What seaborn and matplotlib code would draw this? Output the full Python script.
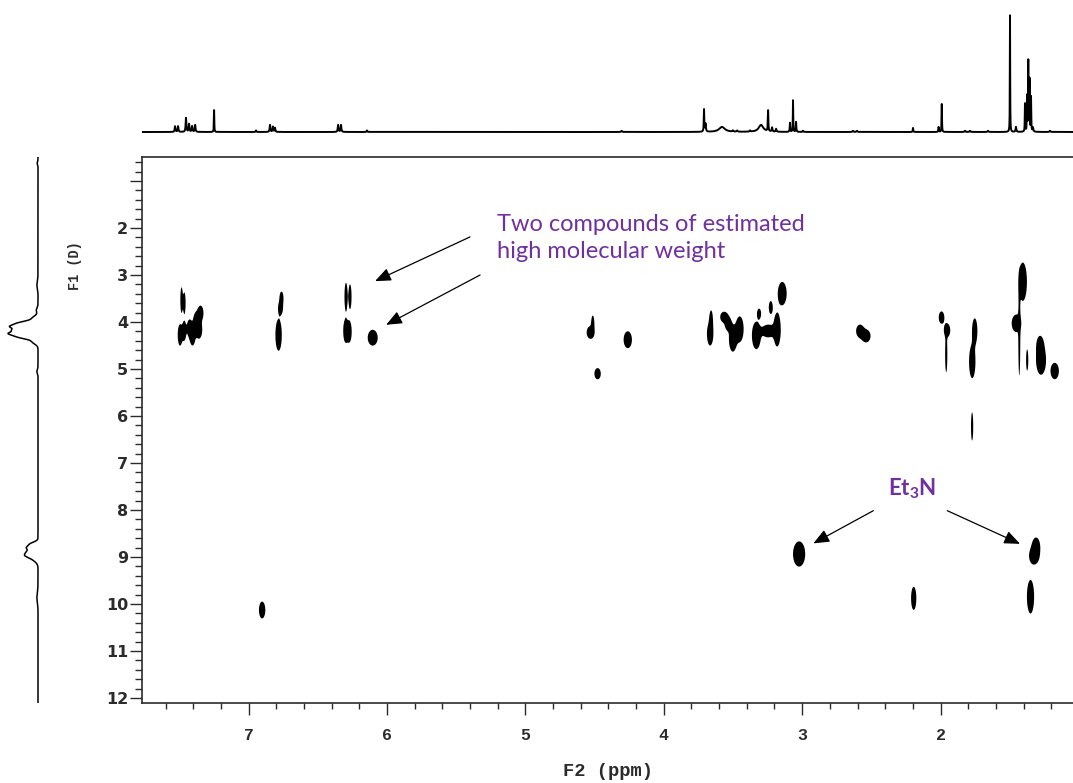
import numpy as np
import pandas as pd
import matplotlib
matplotlib.use("Agg")
import matplotlib.pyplot as plt
import seaborn as sns

# ---------------- DOSY cross peaks (F2 chemical shift / F1 diffusion) ----------------
peak_f2_ppm = [7.484, 7.464, 7.495, 7.465, 7.426, 7.405, 7.379, 7.358, 7.347,
               6.762, 6.769, 6.783,
               6.296, 6.267, 6.299, 6.272, 6.103,
               4.513, 4.529, 4.260, 4.478,
               3.658, 3.665, 3.564, 3.535, 3.501, 3.451, 3.331, 3.311, 3.246, 3.227, 3.181, 3.144,
               2.582, 2.538,
               1.993, 1.953, 1.959, 1.753, 1.771, 1.772,
               1.406, 1.452, 1.431, 1.374, 1.281, 1.274, 1.175,
               3.022, 1.310, 1.324, 2.194, 1.350, 6.902]
peak_f1_d = [3.532, 3.596, 4.277, 4.191, 4.128, 4.319, 4.000, 4.170, 3.809,
             3.489, 3.702, 4.277,
             3.462, 3.462, 4.191, 4.206, 4.334,
             4.021, 4.223, 4.377, 5.100,
             3.957, 4.255, 3.894, 4.043, 4.362, 4.149, 4.287, 3.819, 4.191, 3.691, 4.164, 3.394,
             4.191, 4.298,
             3.904, 4.177, 4.681, 4.191, 4.845, 6.223,
             3.143, 4.028, 4.294, 4.809, 4.489, 4.809, 5.043,
             8.936, 8.766, 8.979, 9.879, 9.845, 10.128]
peak_f2_halfwidth = [0.0090, 0.0090, 0.017, 0.014, 0.019, 0.019, 0.021, 0.023, 0.021,
                     0.014, 0.017, 0.023,
                     0.011, 0.011, 0.017, 0.017, 0.036,
                     0.011, 0.028, 0.030, 0.023,
                     0.012, 0.023, 0.028, 0.023, 0.028, 0.028, 0.032, 0.014, 0.044, 0.014, 0.026, 0.032,
                     0.028, 0.032,
                     0.020, 0.023, 0.0080, 0.019, 0.023, 0.0080,
                     0.030, 0.034, 0.0072, 0.0080, 0.023, 0.036, 0.030,
                     0.044, 0.028, 0.036, 0.019, 0.026, 0.023]
peak_f1_halfwidth = [0.27, 0.225, 0.225, 0.20, 0.18, 0.18, 0.20, 0.18, 0.157,
                     0.135, 0.135, 0.335,
                     0.297, 0.262, 0.242, 0.224, 0.168,
                     0.157, 0.135, 0.179, 0.119,
                     0.20, 0.246, 0.112, 0.135, 0.268, 0.268, 0.291, 0.101, 0.135, 0.135, 0.357, 0.246,
                     0.135, 0.135,
                     0.129, 0.145, 0.39, 0.268, 0.35, 0.30,
                     0.408, 0.186, 0.85, 0.224, 0.179, 0.313, 0.174,
                     0.268, 0.179, 0.179, 0.246, 0.357, 0.179]

# ---------------- 1H spectrum (top trace) ----------------
h1_ppm = [7.531, 7.509, 7.452, 7.430, 7.408, 7.386, 7.249, 6.946, 6.845, 6.824, 6.809,
          6.353, 6.332, 6.144, 4.304, 3.709, 3.698, 3.579, 3.500, 3.470, 3.376, 3.297,
          3.246, 3.217, 3.188, 3.088, 3.066, 3.044, 2.994, 2.633, 2.604, 2.199, 2.014,
          1.991, 1.823, 1.787, 1.657, 1.498, 1.455, 1.390, 1.375, 1.366, 1.357, 1.346,
          1.332, 1.209]
h1_height = [0.049, 0.049, 0.12, 0.068, 0.05, 0.06, 0.188, 0.013, 0.06, 0.045, 0.035,
             0.06, 0.06, 0.013, 0.01, 0.19, 0.068, 0.043, 0.01, 0.01, 0.01, 0.06,
             0.18, 0.035, 0.025, 0.077, 0.27, 0.085, 0.01, 0.01, 0.01, 0.035, 0.043,
             0.24, 0.01, 0.01, 0.01, 1.0, 0.043, 0.24, 0.30, 0.60, 0.45, 0.30,
             0.035, 0.01]
h1_width = [0.003, 0.003, 0.003, 0.003, 0.003, 0.003, 0.0015, 0.003, 0.003, 0.003, 0.003,
            0.003, 0.003, 0.003, 0.004, 0.002, 0.003, 0.025, 0.004, 0.004, 0.004, 0.02,
            0.002, 0.003, 0.003, 0.002, 0.0015, 0.002, 0.003, 0.004, 0.004, 0.002, 0.002,
            0.0015, 0.004, 0.004, 0.004, 0.0012, 0.003, 0.0015, 0.0015, 0.0015, 0.0015, 0.0015,
            0.003, 0.004]

# ---------------- diffusion projection (left trace) ----------------
proj_d = [0.62, 3.20, 3.75, 3.92, 4.02, 4.10, 4.17, 4.24, 4.32, 4.42, 5.05,
          8.72, 8.80, 8.88, 8.96, 9.05, 9.85]
proj_height = [0.03, 0.04, 0.06, 0.20, 0.60, 0.90, 0.55, 0.95, 0.60, 0.20, 0.04,
               0.25, 0.35, 0.25, 0.40, 0.15, 0.04]
proj_width = [0.03, 0.08, 0.05, 0.05, 0.04, 0.04, 0.03, 0.04, 0.04, 0.05, 0.04,
              0.04, 0.04, 0.04, 0.05, 0.06, 0.10]

f2_major = [7, 6, 5, 4, 3, 2]
f1_major = list(range(1, 13))
f1_labels = [""] + [str(v) for v in range(2, 13)]

F2_LIM = (7.77, 1.043)
F1_LIM = (12.106, 0.479)
PURPLE = "#7030A0"
AXIS_INK = "#2b2b2b"

sns.set_theme(style="ticks")
plt.rcParams["font.family"] = ["Lato", "DejaVu Sans"]
plt.rcParams["mathtext.fontset"] = "custom"
plt.rcParams["mathtext.rm"] = "Lato"
plt.rcParams["mathtext.bf"] = "Lato:bold"

W, H = 1073, 783
fig = plt.figure(figsize=(W / 100, H / 100), dpi=100)
fig.patch.set_facecolor("white")

def px_box(x0, y0, x1, y1):
    return [x0 / W, 1 - y1 / H, (x1 - x0) / W, (y1 - y0) / H]

ax = fig.add_axes(px_box(142, 156.5, 1073, 703))
ax_top = fig.add_axes(px_box(142, 10, 1073, 140))
ax_left = fig.add_axes(px_box(4, 156.5, 44, 703))

# ---- 2D map: filled contours of summed elliptical peak shapes ----
gx = np.linspace(F2_LIM[1], F2_LIM[0], 3000)
gy = np.linspace(F1_LIM[1], F1_LIM[0], 1400)
Z = np.zeros((gy.size, gx.size))
for x0, y0, hx, hy in zip(peak_f2_ppm, peak_f1_d, peak_f2_halfwidth, peak_f1_halfwidth):
    ix = (gx > x0 - 4 * hx) & (gx < x0 + 4 * hx)
    iy = (gy > y0 - 4 * hy) & (gy < y0 + 4 * hy)
    dx = (gx[ix] - x0) / hx
    dy = (gy[iy] - y0) / hy
    Z[np.ix_(iy, ix)] += np.exp(-(dy[:, None] ** 2 + dx[None, :] ** 2))
ax.contourf(gx, gy, Z, levels=[np.exp(-1), Z.max() + 1], colors=["black"], antialiased=True)

ax.set_xlim(*F2_LIM)
ax.set_ylim(*F1_LIM)
ax.set_xticks(f2_major)
ax.set_xticklabels([str(v) for v in f2_major], family="Liberation Mono", fontsize=12, fontweight="bold")
ax.set_xticks(np.arange(1.2, 7.8, 0.2), minor=True)
ax.set_yticks(f1_major)
ax.set_yticklabels(f1_labels, family="DejaVu Sans", fontsize=11.5, fontweight="bold")
ax.set_yticks(np.arange(0.6, 12.05, 0.2), minor=True)
ax.tick_params(axis="x", which="major", direction="out", length=8.6, width=1.0, pad=9.5, colors=AXIS_INK)
ax.tick_params(axis="x", which="minor", direction="out", length=4, width=1.0, colors=AXIS_INK)
ax.tick_params(axis="y", which="major", direction="out", length=8.6, width=1.0, pad=1.5, colors=AXIS_INK)
ax.tick_params(axis="y", which="minor", direction="out", length=5, width=1.0, colors=AXIS_INK)
for side in ("left", "bottom", "top"):
    ax.spines[side].set_color(AXIS_INK)
    ax.spines[side].set_linewidth(1.2)
ax.spines["right"].set_visible(False)
ax.set_facecolor("white")

ax.set_xlabel("F2 (ppm)", family="Liberation Mono", fontsize=13.5, fontweight="bold", color=AXIS_INK)
ax.xaxis.set_label_coords(0.5005, -0.126)
ax.xaxis.label.set_va("center")
ax.set_ylabel("F1 (D)", family="Liberation Mono", fontsize=9.8, fontweight="bold", color=AXIS_INK)
ax.yaxis.set_label_coords(-0.072, 0.801)
ax.yaxis.label.set_va("center")

# ---- annotations ----
ax.text(5.204, 2.21, "Two compounds of estimated\nhigh molecular weight", color=PURPLE,
        fontsize=17, ha="left", va="center", linespacing=1.38, family="Lato")
arrow = dict(arrowstyle="-|>,head_length=0.6,head_width=0.25", color="black", lw=0.9,
             mutation_scale=16, shrinkA=0, shrinkB=0)
ax.annotate("", xy=(6.086, 3.13), xytext=(5.40, 2.19), arrowprops=arrow)
ax.annotate("", xy=(6.006, 4.06), xytext=(5.327, 3.0), arrowprops=arrow)
ax.text(2.208, 7.54, r"$\mathbf{Et_3N}$", color=PURPLE, fontsize=16, ha="center", va="center")
ax.annotate("", xy=(2.919, 8.71), xytext=(2.486, 8.015), arrowprops=arrow)
ax.annotate("", xy=(1.426, 8.72), xytext=(1.951, 8.015), arrowprops=arrow)

# ---- top 1H trace ----
ppm_axis = np.linspace(F2_LIM[1], F2_LIM[0], 14000)
spec = np.zeros_like(ppm_axis)
for p, h, w in zip(h1_ppm, h1_height, h1_width):
    spec += h * w ** 2 / ((ppm_axis - p) ** 2 + w ** 2)
top_df = pd.DataFrame({"ppm": ppm_axis, "intensity": spec})
sns.lineplot(data=top_df, x="ppm", y="intensity", ax=ax_top, color="black",
             linewidth=1.4, estimator=None, sort=False)
ax_top.set_xlim(*F2_LIM)
ax_top.set_ylim(-0.0684, 1.0427)
ax_top.axis("off")

# ---- left diffusion projection ----
d_axis = np.linspace(F1_LIM[1], F1_LIM[0], 3000)
proj = np.zeros_like(d_axis)
for d, h, w in zip(proj_d, proj_height, proj_width):
    proj += h * np.exp(-0.5 * ((d_axis - d) / w) ** 2)
left_df = pd.DataFrame({"D": d_axis, "intensity": proj})
sns.lineplot(data=left_df, x="intensity", y="D", orient="y", ax=ax_left, color="black",
             linewidth=1.1, estimator=None)
ax_left.set_xlim(1.214, -0.214)
ax_left.set_ylim(*F1_LIM)
ax_left.axis("off")

fig.savefig("out.png", dpi=100, facecolor="white")
